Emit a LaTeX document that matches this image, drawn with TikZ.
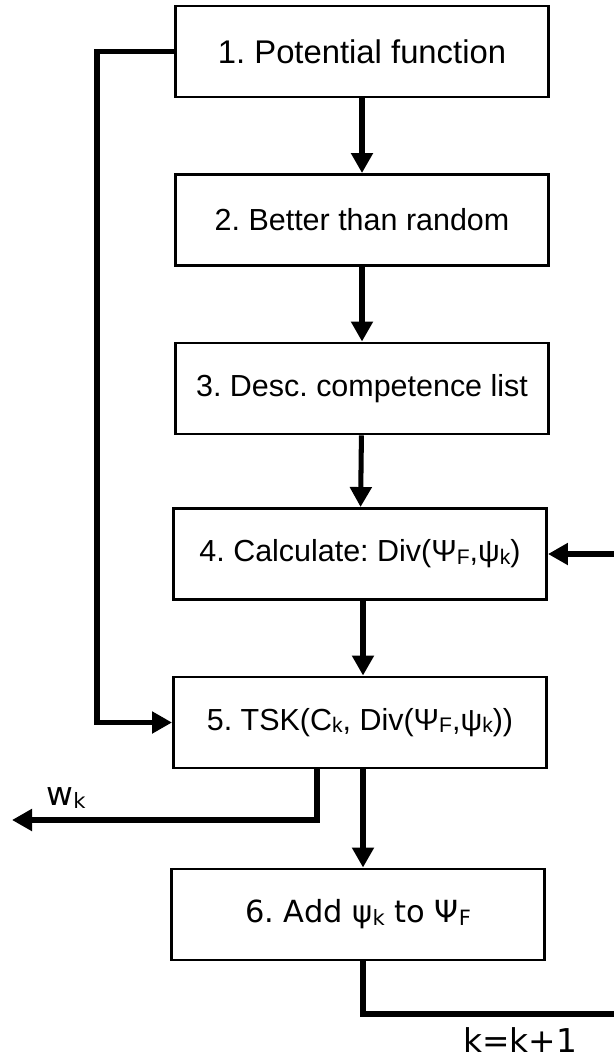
\documentclass[tikz,border=0pt]{standalone}
\usepackage{fontspec}
\setmainfont{Liberation Sans}
\newfontfamily\dejavu{DejaVu Sans}
\usetikzlibrary{arrows.meta,calc,positioning}
\newcommand{\lowtxt}[1]{\raisebox{-0.08em}{\fontsize{18}{18}\selectfont #1}}
\frenchspacing

\begin{document}
\begin{tikzpicture}[x=0.03cm,y=-0.03cm,
    stepbox/.style={draw=black,line width=2.5pt,fill=white,minimum width=11.19cm,
                    minimum height=2.73cm,inner sep=0pt,align=center,
                    font=\fontsize{26}{30}\selectfont},
    flow/.style={line width=4.3pt},
    flowarrow/.style={flow,-{Triangle[length=0.6cm,width=0.63cm]}}]
    \useasboundingbox (0,0) rectangle (613,1061);

    % Steps
    \node[stepbox,font=\fontsize{28}{32}\selectfont] (pot) at (362,51.5) {1. Potential function};
    \node[stepbox] (rand) at (362,220) {2. Better than random};
    \node[stepbox] (desc) at (362,388.5) {3. Desc. competence list};
    \node[stepbox] (calc) at (360,554) {4. Calculate: Div(Ψ\lowtxt{F},ψ\lowtxt{k})};
    \node[stepbox] (tsk) at (360,722.5) {5. TSK(C\lowtxt{k}, Div(Ψ\lowtxt{F},ψ\lowtxt{k}))};
    \node[stepbox,font=\dejavu\fontsize{26}{30}\selectfont] (add) at (358,914.5)
        {6. Add ψ\lowtxt{k} to Ψ\lowtxt{F}};

    % Labels
    \node[font=\dejavu\fontsize{28}{32}\selectfont] (wk) at (66,798) {w\lowtxt{k}};
    \node[font=\dejavu\fontsize{28}{32}\selectfont] (incr) at (520,1040) {k=k+1};

    % Loose ends
    \coordinate (loopL) at (97,722.5);
    \coordinate (wout) at (12,820);
    \coordinate (loopR) at (620,1014);
    \coordinate (loopIn) at (620,554);

    % Main flow
    \draw[flowarrow] (pot) -- (rand);
    \draw[flowarrow] (rand) -- (desc);
    \draw[flowarrow] (desc) -- (calc);
    \draw[flowarrow] ([xshift=0.09cm]calc.south) -- ([xshift=0.09cm]tsk.north);
    \draw[flowarrow] ([xshift=0.09cm]tsk.south) -- ([xshift=0.15cm]add.north);

    % Side paths
    \draw[flowarrow] (pot.west) -| (loopL) -- (tsk.west);
    \draw[flowarrow] ($(tsk.south)+(-43,0)$) |- (wout);
    \draw[flow] ([xshift=0.15cm]add.south) |- (loopR);
    \draw[flowarrow] (loopIn) -- (calc.east);
\end{tikzpicture}
\end{document}
